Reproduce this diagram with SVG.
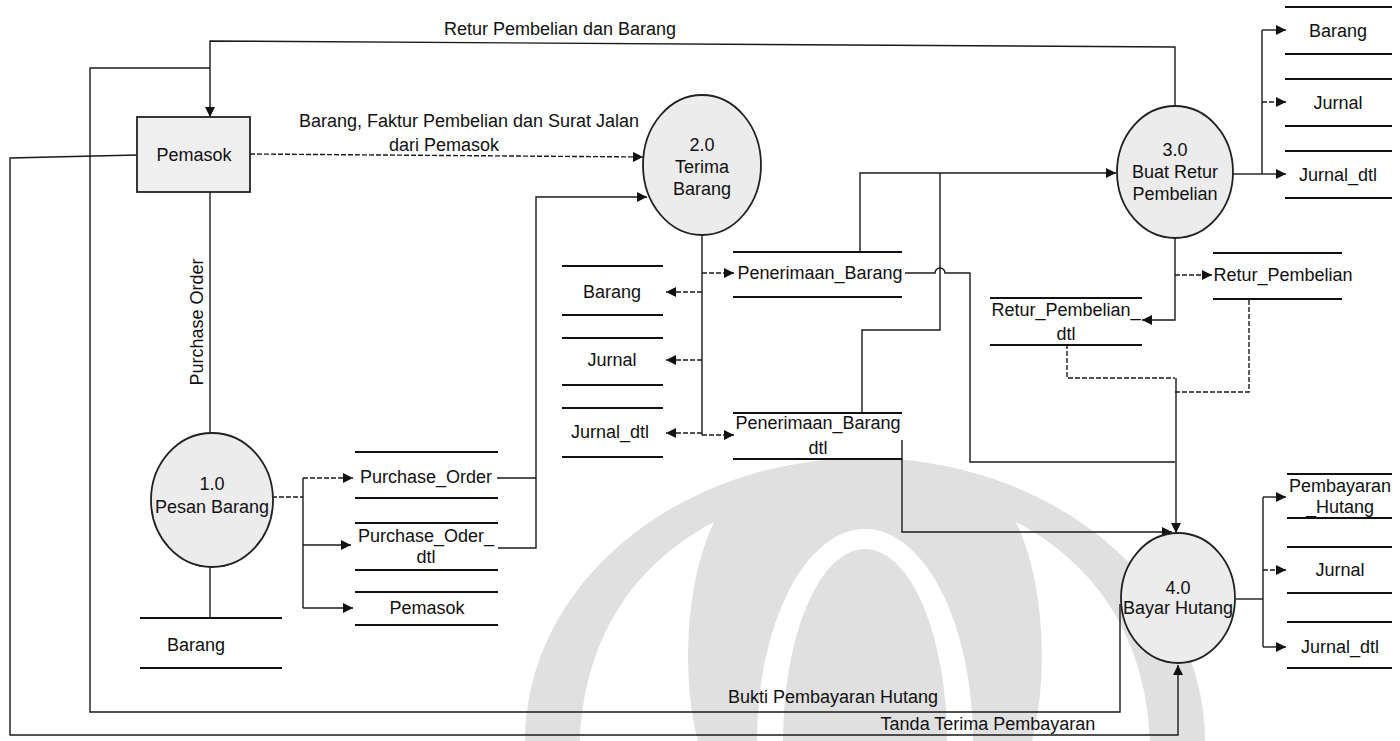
<svg xmlns="http://www.w3.org/2000/svg" width="1400" height="741" viewBox="0 0 1400 741">
<defs>
<marker id="ah" markerUnits="userSpaceOnUse" markerWidth="10" markerHeight="10" refX="10" refY="5" orient="auto">
<path d="M0,0 L10,5 L0,10 z" fill="#111"/>
</marker>
<style>
.t{font-family:'Liberation Sans',Arial,sans-serif;font-size:18px;fill:#111;text-anchor:middle;dominant-baseline:central}
.ln{fill:none;stroke:#1a1a1a;stroke-width:1.4}
.da{fill:none;stroke:#1a1a1a;stroke-width:1.4;stroke-dasharray:5 2}
.ar{marker-end:url(#ah)}
.proc{fill:#ececec;stroke:#222;stroke-width:1.8}
.ent{fill:#efefef;stroke:#222;stroke-width:1.8}
.st{stroke:#111;stroke-width:1.8}
</style>
</defs>
<rect width="1400" height="741" fill="#ffffff"/>
<g id="watermark">
<ellipse cx="865" cy="741" rx="340" ry="283" fill="#e0e0e0"/>
<path d="M580,741 C584,640 632,565 714,522 C684,585 682,680 698,741 Z" fill="#ffffff"/>
<path d="M1150,741 C1146,640 1098,565 1016,522 C1046,585 1048,680 1032,741 Z" fill="#ffffff"/>
<ellipse cx="865" cy="741" rx="108" ry="212" fill="#ffffff"/>
<ellipse cx="865" cy="741" rx="82" ry="192" fill="#e0e0e0"/>
</g>
<g id="connectors">
<polyline class="ln ar" points="1175,106 1175,47 210,41 210,117"/>
<polyline class="ln" points="1120,604 1120,712 90,712 90,68 210,68"/>
<polyline class="ln ar" points="137,155 10,158 10,735 1178,735 1178,665"/>
<polyline class="da ar" points="250,154 643,157"/>
<line class="ln" x1="210" y1="192" x2="210" y2="433"/>
<line class="ln" x1="210" y1="567" x2="210" y2="617"/>
<polyline class="da" points="272,497 303,497"/>
<polyline class="ln" points="303,478 303,608"/>
<line class="da ar" x1="303" y1="478" x2="353" y2="478"/>
<line class="ln ar" x1="303" y1="545" x2="351" y2="545"/>
<line class="ln ar" x1="303" y1="608" x2="353" y2="608"/>
<polyline class="ln" points="497,478 536,478"/>
<polyline class="ln ar" points="498,548 536,548 536,197 647,197"/>
<line class="ln" x1="702" y1="235" x2="702" y2="435"/>
<line class="da ar" x1="702" y1="292" x2="666" y2="292"/>
<line class="da ar" x1="702" y1="360" x2="666" y2="360"/>
<line class="da ar" x1="702" y1="433" x2="666" y2="433"/>
<line class="da ar" x1="702" y1="273" x2="734" y2="273"/>
<line class="da ar" x1="702" y1="435" x2="734" y2="435"/>
<polyline class="ln ar" points="860,252 860,173 1116,173"/>
<polyline class="ln" points="862,413 862,330 940,330 940,173"/>
<path class="ln" d="M905,273 L935,273 A5,5 0 0 1 945,273 L970,273 L970,462 L1175,462"/>
<polyline class="ln ar" points="902,440 902,532 1172,532"/>
<polyline class="ln" points="1233,174 1262,174"/>
<polyline class="ln" points="1262,30 1262,174"/>
<line class="ln ar" x1="1262" y1="30" x2="1286" y2="30"/>
<line class="da ar" x1="1262" y1="102" x2="1286" y2="102"/>
<line class="ln ar" x1="1262" y1="174" x2="1286" y2="174"/>
<polyline class="ln ar" points="1175,238 1175,320 1142,320"/>
<line class="da ar" x1="1175" y1="275" x2="1212" y2="275"/>
<polyline class="da" points="1067,344 1067,378 1175,378"/>
<polyline class="da" points="1249,300 1249,392 1175,392"/>
<line class="ln ar" x1="1176" y1="378" x2="1176" y2="533"/>
<line class="ln" x1="1236" y1="599" x2="1263" y2="599"/>
<polyline class="ln" points="1263,497 1263,647"/>
<line class="ln ar" x1="1263" y1="497" x2="1286" y2="497"/>
<line class="da ar" x1="1263" y1="570" x2="1286" y2="570"/>
<line class="ln ar" x1="1263" y1="647" x2="1286" y2="647"/>
</g>
<g id="labels">
<text class="t" x="560" y="29">Retur Pembelian dan Barang</text>
<text class="t" x="469" y="121">Barang, Faktur Pembelian dan Surat Jalan</text>
<text class="t" x="444" y="145">dari Pemasok</text>
<text class="t" transform="translate(197,322) rotate(-90)">Purchase Order</text>
<text class="t" x="833" y="697">Bukti Pembayaran Hutang</text>
<text class="t" x="988" y="724">Tanda Terima Pembayaran</text>
</g>
<g id="pemasok">
<rect class="ent" x="137" y="117" width="113" height="75"/>
<text class="t" x="194" y="155">Pemasok</text>
</g>
<g id="p1">
<ellipse class="proc" cx="212" cy="500" rx="61" ry="67"/>
<text class="t" x="212" y="484">1.0</text>
<text class="t" x="212" y="507">Pesan Barang</text>
</g>
<g id="p2">
<ellipse class="proc" cx="702" cy="165" rx="59" ry="70"/>
<text class="t" x="702" y="145">2.0</text>
<text class="t" x="702" y="167">Terima</text>
<text class="t" x="702" y="189">Barang</text>
</g>
<g id="p3">
<ellipse class="proc" cx="1175" cy="172" rx="58" ry="66"/>
<text class="t" x="1175" y="150">3.0</text>
<text class="t" x="1175" y="172">Buat Retur</text>
<text class="t" x="1175" y="194">Pembelian</text>
</g>
<g id="p4">
<ellipse class="proc" cx="1178" cy="598" rx="57" ry="65"/>
<text class="t" x="1178" y="588">4.0</text>
<text class="t" x="1178" y="608">Bayar Hutang</text>
</g>
<g id="ds-barang1">
<line class="st" x1="140" y1="618" x2="282" y2="618"/>
<line class="st" x1="140" y1="668" x2="282" y2="668"/>
<text class="t" x="196" y="645">Barang</text>
</g>
<g id="ds-po">
<line class="st" x1="355" y1="452" x2="498" y2="452"/>
<line class="st" x1="355" y1="498" x2="498" y2="498"/>
<text class="t" x="426" y="477">Purchase_Order</text>
</g>
<g id="ds-podtl">
<line class="st" x1="355" y1="523" x2="498" y2="523"/>
<line class="st" x1="355" y1="570" x2="498" y2="570"/>
<text class="t" x="426" y="536">Purchase_Oder_</text>
<text class="t" x="426" y="557">dtl</text>
</g>
<g id="ds-pemasok">
<line class="st" x1="355" y1="592" x2="498" y2="592"/>
<line class="st" x1="355" y1="625" x2="498" y2="625"/>
<text class="t" x="427" y="608">Pemasok</text>
</g>
<g id="ds-barang2">
<line class="st" x1="562" y1="266" x2="663" y2="266"/>
<line class="st" x1="562" y1="315" x2="663" y2="315"/>
<text class="t" x="612" y="292">Barang</text>
</g>
<g id="ds-jurnal2">
<line class="st" x1="562" y1="338" x2="663" y2="338"/>
<line class="st" x1="562" y1="385" x2="663" y2="385"/>
<text class="t" x="612" y="360">Jurnal</text>
</g>
<g id="ds-jurnaldtl2">
<line class="st" x1="562" y1="408" x2="663" y2="408"/>
<line class="st" x1="562" y1="457" x2="663" y2="457"/>
<text class="t" x="610" y="432">Jurnal_dtl</text>
</g>
<g id="ds-penerimaan">
<line class="st" x1="733" y1="252" x2="902" y2="252"/>
<line class="st" x1="733" y1="297" x2="902" y2="297"/>
<text class="t" x="820" y="273">Penerimaan_Barang</text>
</g>
<g id="ds-penerimaandtl">
<line class="st" x1="733" y1="413" x2="902" y2="413"/>
<line class="st" x1="733" y1="459" x2="902" y2="459"/>
<text class="t" x="818" y="423">Penerimaan_Barang</text>
<text class="t" x="818" y="448">dtl</text>
</g>
<g id="ds-retur">
<line class="st" x1="1213" y1="253" x2="1342" y2="253"/>
<line class="st" x1="1213" y1="299" x2="1342" y2="299"/>
<text class="t" x="1283" y="275">Retur_Pembelian</text>
</g>
<g id="ds-returdtl">
<line class="st" x1="990" y1="298" x2="1142" y2="298"/>
<line class="st" x1="990" y1="345" x2="1142" y2="345"/>
<text class="t" x="1066" y="310">Retur_Pembelian_</text>
<text class="t" x="1066" y="334">dtl</text>
</g>
<g id="ds-barang3">
<line class="st" x1="1285" y1="7" x2="1392" y2="7"/>
<line class="st" x1="1285" y1="54" x2="1392" y2="54"/>
<text class="t" x="1338" y="31">Barang</text>
</g>
<g id="ds-jurnal3">
<line class="st" x1="1285" y1="79" x2="1392" y2="79"/>
<line class="st" x1="1285" y1="126" x2="1392" y2="126"/>
<text class="t" x="1338" y="103">Jurnal</text>
</g>
<g id="ds-jurnaldtl3">
<line class="st" x1="1285" y1="151" x2="1392" y2="151"/>
<line class="st" x1="1285" y1="198" x2="1392" y2="198"/>
<text class="t" x="1338" y="175">Jurnal_dtl</text>
</g>
<g id="ds-bayar">
<line class="st" x1="1287" y1="474" x2="1392" y2="474"/>
<line class="st" x1="1287" y1="518" x2="1392" y2="518"/>
<text class="t" x="1340" y="486">Pembayaran</text>
<text class="t" x="1340" y="507">_Hutang</text>
</g>
<g id="ds-jurnal4">
<line class="st" x1="1287" y1="547" x2="1392" y2="547"/>
<line class="st" x1="1287" y1="593" x2="1392" y2="593"/>
<text class="t" x="1340" y="570">Jurnal</text>
</g>
<g id="ds-jurnaldtl4">
<line class="st" x1="1287" y1="622" x2="1392" y2="622"/>
<line class="st" x1="1287" y1="668" x2="1392" y2="668"/>
<text class="t" x="1340" y="647">Jurnal_dtl</text>
</g>
</svg>
